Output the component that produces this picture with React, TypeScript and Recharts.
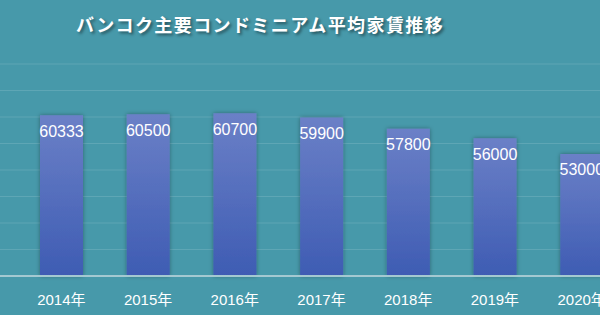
import { BarChart, Bar, XAxis, YAxis, CartesianGrid, LabelList } from "recharts";

// 年ごとの平均家賃
const years = ["2014年", "2015年", "2016年", "2017年", "2018年", "2019年", "2020年"];
const rents = [60333, 60500, 60700, 59900, 57800, 56000, 53000];
const yTicks = [30000, 35000, 40000, 45000, 50000, 55000, 60000, 65000, 70000];

const TITLE = "バンコク主要コンドミニアム平均家賃推移";
const BG = "#4799aa";

export default function App() {
  const data = years.map((year, i) => ({ year, rent: rents[i] }));

  return (
    <div
      style={{
        position: "absolute",
        top: 0,
        left: 0,
        width: 600,
        height: 315,
        overflow: "hidden",
        background: BG,
      }}
    >
      <div
        style={{
          position: "absolute",
          top: 10,
          left: 75,
          width: 370,
          textAlign: "center",
          color: "#ffffff",
          fontFamily: "'Noto Sans CJK JP', sans-serif",
          fontWeight: 700,
          fontSize: 18,
          letterSpacing: 1.4,
          lineHeight: "28px",
          whiteSpace: "nowrap",
          textShadow: "2px 2px 3px rgba(0,0,0,0.45)",
        }}
      >
        {TITLE}
      </div>
      <BarChart
        width={650}
        height={315}
        data={data}
        margin={{ top: 64, right: 0, left: 0, bottom: 9 }}
      >
        <defs>
          <linearGradient id="barFill" x1="0" y1="0" x2="0" y2="1">
            <stop offset="0%" stopColor="#6b80c7" />
            <stop offset="100%" stopColor="#3e5cb3" />
          </linearGradient>
          <filter id="barShadow" x="-30%" y="-10%" width="160%" height="120%">
            <feDropShadow dx="0" dy="0" stdDeviation="2" floodColor="#000" floodOpacity="0.35" />
          </filter>
        </defs>
        <CartesianGrid vertical={false} stroke="rgba(255,255,255,0.13)" strokeWidth={1} />
        <XAxis
          dataKey="year"
          padding={{ left: 18, right: 25 }}
          axisLine={{ stroke: "#a4c9d1", strokeWidth: 2 }}
          tickLine={false}
          tickMargin={12}
          tick={{ fill: "#ffffff", fontSize: 15, fontFamily: "'Liberation Sans', 'Noto Sans CJK JP', sans-serif" }}
          interval={0}
        />
        <YAxis hide domain={[30000, 70000]} ticks={yTicks} />
        <Bar
          dataKey="rent"
          barSize={43}
          fill="url(#barFill)"
          filter="url(#barShadow)"
          isAnimationActive={false}
        >
          <LabelList
            dataKey="rent"
            position="insideTop"
            offset={10}
            fill="#ffffff"
            fontSize={16}
            fontFamily="'Liberation Sans', sans-serif"
          />
        </Bar>
      </BarChart>
    </div>
  );
}
